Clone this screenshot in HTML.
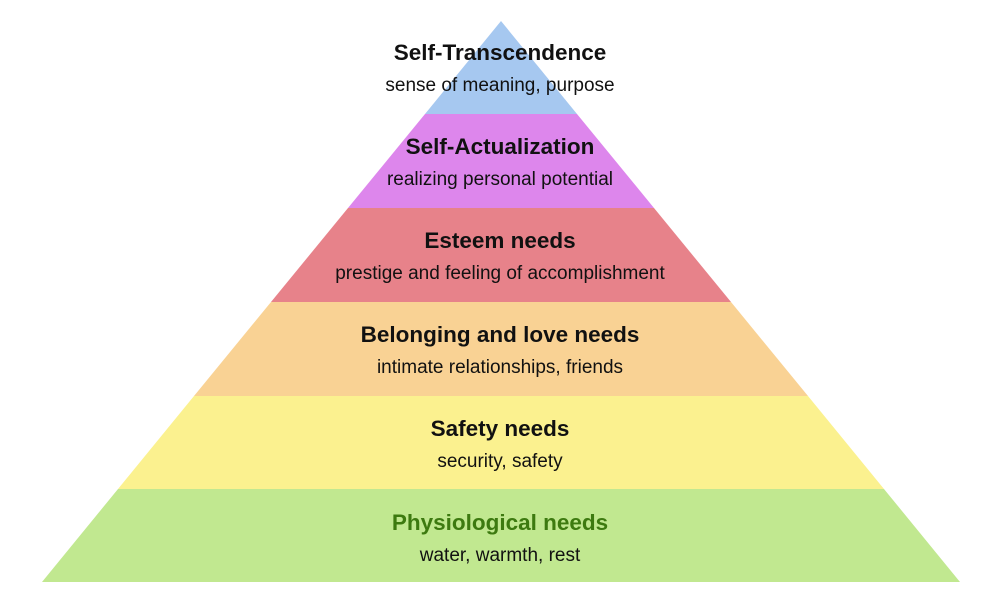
<!DOCTYPE html>
<html><head><meta charset="utf-8"><style>
html,body{margin:0;padding:0;background:#fff;}
svg text{font-family:"Liberation Sans","DejaVu Sans",sans-serif;text-anchor:middle;fill:#111;}
.t{font-weight:bold;font-size:22.5px;}
.s{font-size:19px;}
</style></head><body>
<svg width="1000" height="608" viewBox="0 0 1000 608" xmlns="http://www.w3.org/2000/svg">
<polygon points="501,21 577,114 425,114" fill="#a6c8f0"/>
<polygon points="425,114 577,114 654,208 348,208" fill="#dd86ec"/>
<polygon points="348,208 654,208 731,302 271,302" fill="#e7828a"/>
<polygon points="271,302 731,302 808,396 194,396" fill="#f9d294"/>
<polygon points="194,396 808,396 884,489 118,489" fill="#fbf18f"/>
<polygon points="118,489 884,489 960,582 42,582" fill="#c1e890"/>
<text class="t" x="500" y="60">Self-Transcendence</text>
<text class="s" x="500" y="91">sense of meaning, purpose</text>
<text class="t" x="500" y="154">Self-Actualization</text>
<text class="s" x="500" y="185">realizing personal potential</text>
<text class="t" x="500" y="248">Esteem needs</text>
<text class="s" x="500" y="279">prestige and feeling of accomplishment</text>
<text class="t" x="500" y="342">Belonging and love needs</text>
<text class="s" x="500" y="373">intimate relationships, friends</text>
<text class="t" x="500" y="436">Safety needs</text>
<text class="s" x="500" y="467">security, safety</text>
<text class="t" x="500" y="530" style="fill:#3d7a10">Physiological needs</text>
<text class="s" x="500" y="561">water, warmth, rest</text>
</svg>
</body></html>
